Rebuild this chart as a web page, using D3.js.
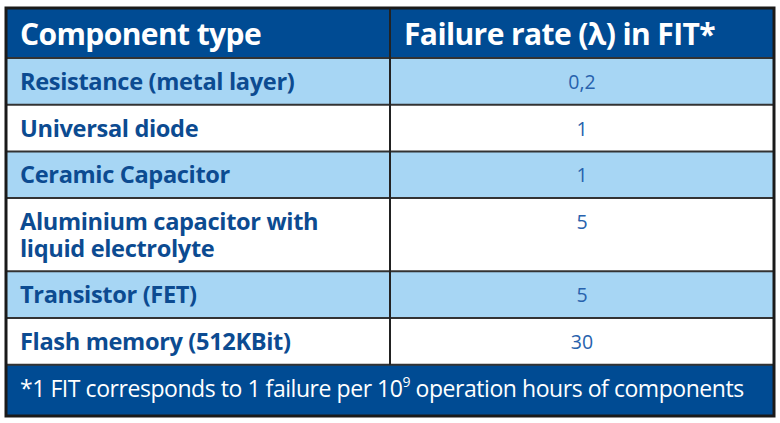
<!DOCTYPE html>
<html><head><meta charset="utf-8">
<script src="https://cdn.jsdelivr.net/npm/d3@7"></script>
<style>body{margin:0;background:#fff}</style></head>
<body><svg id="c" width="780" height="423"></svg>
<script>
const headers = ["Component type", "Failure rate (λ) in FIT*"];
const components = [["Resistance (metal layer)"],["Universal diode"],["Ceramic Capacitor"],["Aluminium capacitor with","liquid electrolyte"],["Transistor (FET)"],["Flash memory (512KBit)"]];
const fitValues = ["0,2","1","1","5","5","30"];
const footnote = ["*1 FIT corresponds to 1 failure per 10","9"," operation hours of components"];

const svg = d3.select("#c");
const F = "'Open Sans', sans-serif";
const X0 = 6, X1 = 774, XM = 390;
const dark = "#004b93", light = "#a7d6f4", txt = "#0c4b91", val = "#2862ad";
const headTop = 8, headBot = 58, footBot = 416;
const unit = 46.7, extra = 26.5;
let ys = [headBot];
components.forEach(c => ys.push(ys[ys.length-1] + unit + (c.length-1)*extra));
const footTop = ys[ys.length-1];

svg.append("rect").attr("x",X0).attr("y",headTop).attr("width",X1-X0).attr("height",headBot-headTop).attr("fill",dark);
svg.append("rect").attr("x",X0).attr("y",footTop).attr("width",X1-X0).attr("height",footBot-footTop).attr("fill",dark);

const rows = svg.selectAll("g.row").data(components).join("g");
rows.append("rect").attr("x",X0).attr("y",(d,i)=>ys[i]).attr("width",X1-X0)
  .attr("height",(d,i)=>ys[i+1]-ys[i]).attr("fill",(d,i)=>i%2==0?light:"#fff");
rows.each(function(d,i){
  const t = d3.select(this).append("text").attr("font-family",F).attr("font-weight",700)
    .attr("font-size",23.6).attr("fill",txt).attr("letter-spacing",-0.35);
  d.forEach((line,j)=>t.append("tspan").attr("x",20).attr("y",ys[i]+32+j*27).text(line));
  d3.select(this).append("text").attr("x",(XM+X1)/2).attr("y",ys[i]+31).attr("text-anchor","middle")
    .attr("font-family",F).attr("font-size",19.5).attr("fill",val).text(fitValues[i]);
});
ys.forEach(y=>svg.append("line").attr("x1",X0).attr("x2",X1).attr("y1",y).attr("y2",y).attr("stroke","#333").attr("stroke-width",2));
svg.append("line").attr("x1",XM).attr("x2",XM).attr("y1",headTop).attr("y2",footTop).attr("stroke","#222").attr("stroke-width",2);
svg.append("rect").attr("x",X0).attr("y",headTop).attr("width",X1-X0).attr("height",footBot-headTop)
  .attr("fill","none").attr("stroke","#1a1a1a").attr("stroke-width",3);

svg.selectAll("text.h").data(headers).join("text").attr("class","h")
  .attr("x",(d,i)=>i?404:20).attr("y",45).attr("font-family",F).attr("font-weight",700)
  .attr("font-size",30).attr("letter-spacing",-0.6).attr("fill","#fff").text(d=>d);

const ft = svg.append("text").attr("x",20).attr("y",397).attr("font-family",F).attr("font-size",23)
  .attr("letter-spacing",-0.45).attr("fill","#fff");
ft.append("tspan").text(footnote[0]);
ft.append("tspan").attr("dy",-10).attr("font-size",14).text(footnote[1]);
ft.append("tspan").attr("dy",10).text(footnote[2]);
</script></body></html>
